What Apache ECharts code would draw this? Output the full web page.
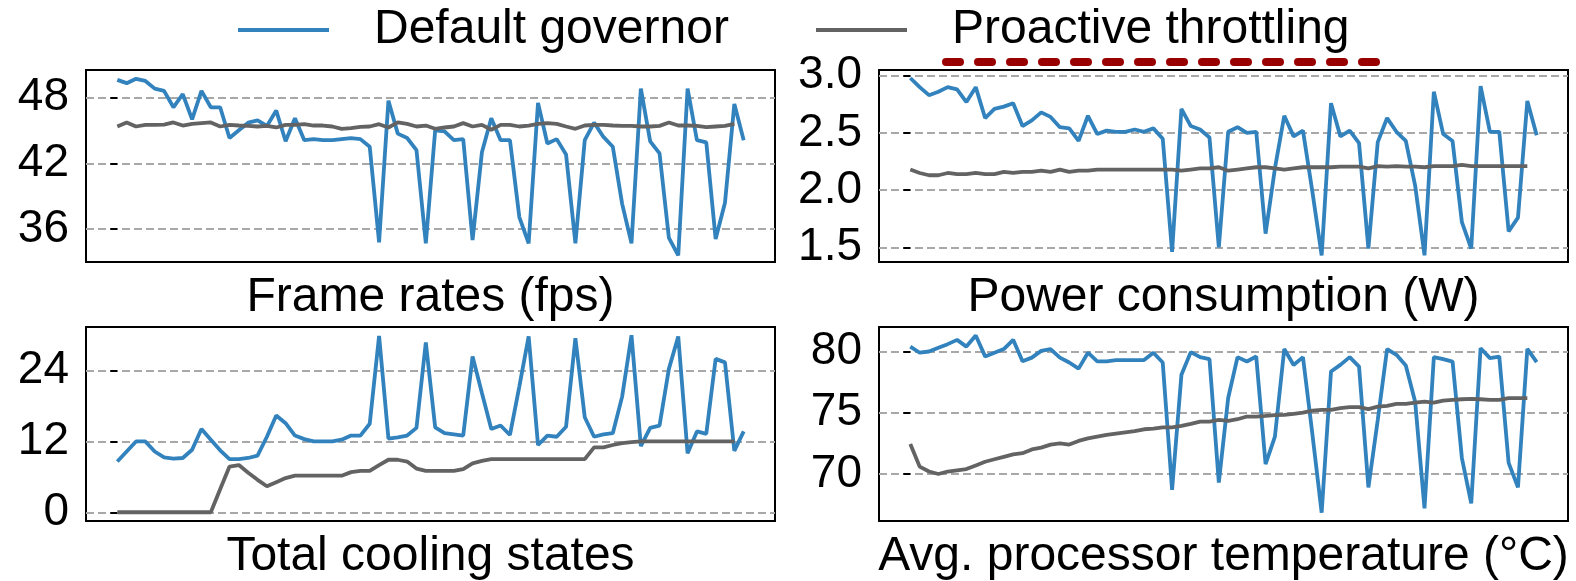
<!DOCTYPE html>
<html>
<head>
<meta charset="utf-8">
<script src="https://cdn.jsdelivr.net/npm/echarts@6/dist/echarts.min.js"></script>
<style>
  html, body { margin: 0; padding: 0; background: #fff; }
  #chart { width: 1576px; height: 581px; }
</style>
</head>
<body>
<div id="chart"></div>
<script>
// Per-sample measurements, one value per sampling step
const fpsDefault = [
  49.6, 49.3, 49.7, 49.5, 48.8, 48.6, 47.1, 48.3, 46.0, 48.6,
  47.1, 47.1, 44.3, 45.0, 45.7, 45.9, 45.4, 46.8, 44.0, 46.1,
  44.1, 44.2, 44.1, 44.1, 44.2, 44.3, 44.2, 43.5, 34.8, 47.7,
  44.7, 44.3, 43.2, 34.7, 45.0, 44.9, 44.1, 44.2, 35.0, 43.0,
  46.1, 44.1, 44.1, 37.1, 34.7, 47.5, 43.8, 44.2, 42.8, 34.7,
  44.1, 45.7, 44.4, 43.5, 38.3, 34.7, 48.8, 44.0, 42.9, 35.2,
  33.6, 48.8, 44.1, 43.9, 35.1, 38.4, 47.4, 44.1
];
const fpsProactive = [
  45.35, 45.72, 45.35, 45.50, 45.50, 45.53, 45.72, 45.44, 45.59, 45.66,
  45.72, 45.35, 45.50, 45.44, 45.41, 45.35, 45.41, 45.26, 45.50, 45.50,
  45.56, 45.44, 45.44, 45.35, 45.14, 45.20, 45.32, 45.35, 45.56, 45.26,
  45.72, 45.59, 45.35, 45.44, 45.14, 45.26, 45.35, 45.66, 45.35, 45.50,
  45.05, 45.50, 45.50, 45.35, 45.44, 45.59, 45.66, 45.59, 45.35, 45.14,
  45.44, 45.50, 45.50, 45.44, 45.41, 45.41, 45.35, 45.35, 45.41, 45.72,
  45.44, 45.44, 45.41, 45.29, 45.35, 45.41, 45.59
];
const powerDefault = [
  2.98, 2.90, 2.83, 2.86, 2.90, 2.88, 2.77, 2.90, 2.63, 2.71,
  2.73, 2.76, 2.56, 2.61, 2.68, 2.64, 2.55, 2.54, 2.43, 2.65,
  2.49, 2.52, 2.51, 2.51, 2.53, 2.51, 2.54, 2.45, 1.46, 2.71,
  2.56, 2.53, 2.46, 1.50, 2.51, 2.55, 2.50, 2.51, 1.62, 2.19,
  2.65, 2.47, 2.52, 1.99, 1.43, 2.76, 2.47, 2.52, 2.41, 1.49,
  2.42, 2.63, 2.51, 2.43, 2.04, 1.43, 2.86, 2.49, 2.43, 1.72,
  1.49, 2.91, 2.51, 2.51, 1.64, 1.76, 2.78, 2.48
];
const powerProactive = [
  2.18, 2.15, 2.13, 2.13, 2.15, 2.14, 2.14, 2.15, 2.14, 2.14,
  2.16, 2.15, 2.16, 2.16, 2.17, 2.16, 2.18, 2.16, 2.17, 2.17,
  2.18, 2.18, 2.18, 2.18, 2.18, 2.18, 2.18, 2.18, 2.18, 2.17,
  2.18, 2.19, 2.19, 2.20, 2.17, 2.18, 2.19, 2.20, 2.20, 2.19,
  2.18, 2.19, 2.20, 2.20, 2.20, 2.20, 2.205, 2.205, 2.205, 2.19,
  2.21, 2.205, 2.21, 2.205, 2.205, 2.20, 2.21, 2.21, 2.21, 2.22,
  2.21, 2.21, 2.21, 2.21, 2.21, 2.21, 2.21
];
const coolingDefault = [
  8.6, 10.3, 12.0, 12.0, 10.3, 9.3, 9.1, 9.2, 10.6, 14.1,
  12.3, 10.5, 9.0, 9.0, 9.2, 9.6, 12.8, 16.4, 15.1, 13.0,
  12.4, 12.0, 12.0, 12.0, 12.3, 13.0, 13.0, 15.0, 29.9, 12.5,
  12.7, 13.0, 14.3, 28.8, 14.4, 13.4, 13.2, 13.0, 26.4, 20.2,
  14.1, 14.7, 13.1, 21.3, 29.8, 11.4, 13.0, 12.8, 14.5, 29.5,
  16.1, 12.8, 13.2, 13.4, 19.6, 30.0, 11.2, 14.3, 14.7, 24.3,
  29.8, 10.0, 13.7, 13.3, 26.0, 25.4, 10.4, 13.7
];
const coolingProactive = [
  0, 0, 0, 0, 0, 0, 0, 0, 0, 0,
  0, 3.9, 7.75, 8.0, 6.7, 5.5, 4.4, 5.1, 5.8, 6.2,
  6.2, 6.2, 6.2, 6.2, 6.2, 6.8, 7.0, 7.0, 8.0, 8.9,
  8.9, 8.6, 7.4, 7.0, 7.0, 7.0, 7.0, 7.3, 8.3, 8.7,
  9.0, 9.0, 9.0, 9.0, 9.0, 9.0, 9.0, 9.0, 9.0, 9.0,
  9.0, 11.0, 11.0, 11.4, 11.7, 11.9, 12.0, 12.0, 12.0, 12.0,
  12.0, 12.0, 12.0, 12.0, 12.0, 12.0, 12.0
];
const tempDefault = [
  80.4, 79.9, 80.0, 80.3, 80.6, 80.95, 80.4, 81.3, 79.6, 79.9,
  80.2, 80.95, 79.2, 79.5, 80.05, 80.2, 79.5, 79.1, 78.6, 79.9,
  79.2, 79.2, 79.3, 79.3, 79.3, 79.3, 79.9, 79.1, 68.7, 78.1,
  79.95, 79.54, 79.37, 69.3, 76.2, 79.54, 79.18, 79.59, 70.8, 73.05,
  80.2, 78.9, 79.54, 73.3, 66.84, 78.37, 78.91, 79.54, 78.77, 68.9,
  74.4, 80.2, 79.73, 78.86, 75.9, 67.2, 79.54, 79.37, 79.18, 71.3,
  67.6, 80.27, 79.46, 79.59, 70.9, 68.9, 80.22, 79.13
];
const tempProactive = [
  72.45, 70.6, 70.2, 70.0, 70.2, 70.3, 70.4, 70.7, 71.0, 71.2,
  71.4, 71.6, 71.7, 72.0, 72.15, 72.4, 72.5, 72.4, 72.7, 72.9,
  73.05, 73.2, 73.3, 73.4, 73.5, 73.65, 73.7, 73.8, 73.81, 73.92,
  74.09, 74.28, 74.28, 74.41, 74.33, 74.47, 74.69, 74.69, 74.74, 74.80,
  74.82, 74.90, 75.01, 75.18, 75.23, 75.23, 75.37, 75.45, 75.45, 75.29,
  75.50, 75.56, 75.72, 75.72, 75.83, 75.91, 75.83, 75.99, 76.05, 76.10,
  76.13, 76.10, 76.05, 76.05, 76.19, 76.19, 76.19
];

// Tick values for each panel's y axis
const fpsTicks = [36, 42, 48];
const powerTicks = [1.5, 2.0, 2.5, 3.0];
const coolingTicks = [0, 12, 24];
const tempTicks = [70, 75, 80];

const seriesNames = ['Default governor', 'Proactive throttling'];
const panelTitles = [
  'Frame rates (fps)',
  'Power consumption (W)',
  'Total cooling states',
  'Avg. processor temperature (°C)'
];

const FONT = '"Liberation Sans", Arial, Helvetica, sans-serif';
const FS_TICK = 46;
const FS_TEXT = 48;
const BLUE = '#3182bd';
const GRAY = '#636363';
const LINE_W = 3.8;

const chart = echarts.init(document.getElementById('chart'), null, { renderer: 'canvas' });

const gridBoxes = [
  { left: 86,  top: 70,  width: 689, height: 192 },
  { left: 879, top: 70,  width: 689, height: 192 },
  { left: 86,  top: 327, width: 689, height: 194 },
  { left: 879, top: 327, width: 689, height: 194 }
];
const grids = gridBoxes.map(g => Object.assign({ show: true, borderColor: '#000', borderWidth: 2, backgroundColor: '#fff' }, g));

const panels = [
  { def: fpsDefault,     pro: fpsProactive,     ticks: fpsTicks,     min: 33.0,  max: 50.5,  dec: 0 },
  { def: powerDefault,   pro: powerProactive,   ticks: powerTicks,   min: 1.372, max: 3.05,  dec: 1 },
  { def: coolingDefault, pro: coolingProactive, ticks: coolingTicks, min: -1.48, max: 31.4,  dec: 0 },
  { def: tempDefault,    pro: tempProactive,    ticks: tempTicks,    min: 66.16, max: 82.0,  dec: 0 }
];

const xAxes = panels.map((p, i) => ({
  type: 'value', gridIndex: i, min: -3.35, max: 70.35, show: false
}));

const yAxes = panels.map((p, i) => ({
  type: 'value', gridIndex: i, min: p.min, max: p.max,
  axisLine: { show: false },
  axisTick: { show: true, length: 7, customValues: p.ticks, lineStyle: { color: '#000', width: 2 } },
  axisLabel: {
    customValues: p.ticks, fontSize: FS_TICK, color: '#000', fontFamily: FONT, margin: 17,
    formatter: v => p.dec ? Number(v).toFixed(p.dec) : String(Math.round(v))
  },
  splitLine: { show: true, lineStyle: { color: '#a8a8a8', type: [8, 4], width: 2 } }
}));

const toPoints = arr => arr.map((v, i) => [i, v]);

const series = [];
panels.forEach((p, i) => {
  series.push({
    name: seriesNames[0], type: 'line', xAxisIndex: i, yAxisIndex: i,
    data: toPoints(p.def), showSymbol: false, symbol: 'none', z: 2,
    color: BLUE, lineStyle: { color: BLUE, width: LINE_W }, itemStyle: { color: BLUE }
  });
  series.push({
    name: seriesNames[1], type: 'line', xAxisIndex: i, yAxisIndex: i,
    data: toPoints(p.pro), showSymbol: false, symbol: 'none', z: 3,
    color: GRAY, lineStyle: { color: GRAY, width: LINE_W }, itemStyle: { color: GRAY }
  });
});

const legendCommon = {
  top: 6, padding: 0, icon: 'rect', itemWidth: 91, itemHeight: LINE_W,
  selectedMode: false,
  textStyle: { fontSize: FS_TEXT, color: '#000', fontFamily: FONT, padding: [0, 0, 0, 40] }
};

// panel captions, centred under each panel
const captionY = [298, 298, 557, 557];
const graphics = panelTitles.map((t, i) => ({
  type: 'text', x: gridBoxes[i].left + gridBoxes[i].width / 2, y: captionY[i],
  style: { text: t, fontSize: FS_TEXT, fontFamily: FONT, fill: '#000', align: 'center', verticalAlign: 'middle' }
}));
// dark red dashed underline beneath the second legend entry
graphics.push({
  type: 'line', shape: { x1: 946, y1: 62, x2: 1376, y2: 62 },
  style: { stroke: '#990000', lineWidth: 8, lineDash: [14, 18], lineCap: 'round' }, z: 10
});

chart.setOption({
  animation: false,
  backgroundColor: '#fff',
  grid: grids,
  xAxis: xAxes,
  yAxis: yAxes,
  legend: [
    Object.assign({ left: 238, data: [seriesNames[0]] }, legendCommon),
    Object.assign({ left: 816, data: [seriesNames[1]] }, legendCommon)
  ],
  graphic: graphics,
  series: series
});
</script>
</body>
</html>
